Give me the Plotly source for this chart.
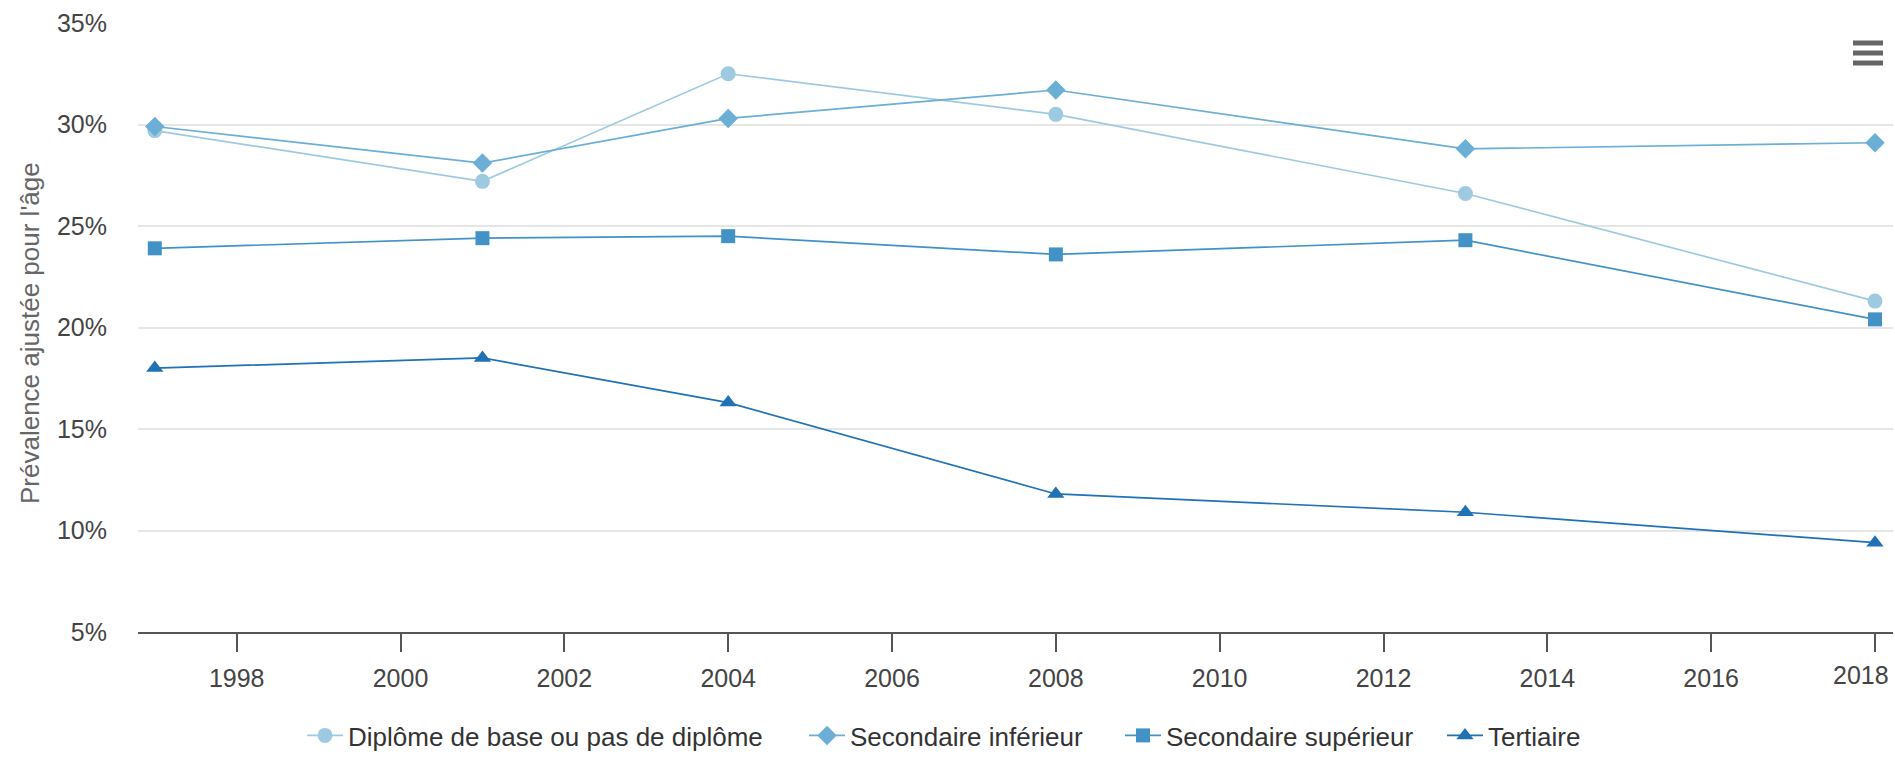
import plotly.graph_objects as go

years = [1997, 2001, 2004, 2008, 2013, 2018]
series_names = [
    "Diplôme de base ou pas de diplôme",
    "Secondaire inférieur",
    "Secondaire supérieur",
    "Tertiaire",
]
diplome_base = [29.7, 27.2, 32.5, 30.5, 26.6, 21.3]
secondaire_inf = [29.9, 28.1, 30.3, 31.7, 28.8, 29.1]
secondaire_sup = [23.9, 24.4, 24.5, 23.6, 24.3, 20.4]
tertiaire = [18.0, 18.5, 16.3, 11.8, 10.9, 9.4]

y_ticks = [5, 10, 15, 20, 25, 30, 35]
x_ticks = [1998, 2000, 2002, 2004, 2006, 2008, 2010, 2012, 2014, 2016, 2018]

colors = ["#9ecae1", "#6baed6", "#4292c6", "#2171b5"]
symbols = ["circle", "diamond", "square", "triangle-up"]
sizes = [15, 15, 14, 15]
values = [diplome_base, secondaire_inf, secondaire_sup, tertiaire]
legend_ids = ["legend", "legend2", "legend3", "legend4"]
legend_px = [307, 809, 1125, 1447]

FONT = "Liberation Sans, Arial, sans-serif"

W, H = 1895, 759
L, R, T, B = 138, 2, 23, 127
pw = W - L - R
ph = H - T - B


def px_x(px):
    return (px - L) / pw


def px_y(py):
    return (H - B - py) / ph


fig = go.Figure()
for name, vals, c, s, sz, lg in zip(series_names, values, colors, symbols, sizes, legend_ids):
    fig.add_trace(go.Scatter(
        x=years, y=vals, name=name, mode="lines+markers",
        line=dict(color=c, width=1.7),
        marker=dict(color=c, symbol=s, size=sz, line=dict(width=0)),
        legend=lg,
    ))

legend_layout = {}
for lg, px in zip(legend_ids, legend_px):
    legend_layout[lg] = dict(
        orientation="h", xref="container", yref="container",
        x=(px - 5) / W, xanchor="left", y=0, yanchor="bottom",
        font=dict(size=26, color="#333333", family=FONT),
        bgcolor="rgba(0,0,0,0)", borderwidth=0,
        itemwidth=36,
    )

fig.update_layout(
    width=W, height=H,
    margin=dict(l=L, r=R, t=T, b=B, pad=0),
    paper_bgcolor="white", plot_bgcolor="white",
    font=dict(family=FONT, size=23, color="#333333"),
    showlegend=True,
    xaxis=dict(
        range=[1996.795, 2018.22],
        tickvals=x_ticks,
        ticktext=[str(v) if v != 2018 else "" for v in x_ticks],
        showgrid=False, zeroline=False,
        showline=True, linecolor="#555555", linewidth=2,
        ticks="outside", ticklen=18, tickwidth=2, tickcolor="#555555",
        tickfont=dict(size=25, color="#444444"),
        ticklabelstandoff=5,
    ),
    yaxis=dict(
        range=[5, 35],
        tickvals=y_ticks, ticktext=[f"{v}%" for v in y_ticks],
        showgrid=True, gridcolor="#e6e6e6", gridwidth=1.5,
        zeroline=False, showline=False, ticks="",
        tickfont=dict(size=25, color="#444444"),
        ticklabelstandoff=30,
    ),
    annotations=[
        dict(
            text="Prévalence ajustée pour l'âge",
            xref="paper", yref="paper",
            x=px_x(30), y=px_y(333),
            xanchor="center", yanchor="middle",
            textangle=-90, showarrow=False,
            font=dict(size=26, color="#666666", family=FONT),
        ),
        # last x label, shifted left to stay inside the chart (as the original does)
        dict(
            text=str(x_ticks[-1]),
            xref="paper", yref="paper",
            x=px_x(1891), y=px_y(675),
            xanchor="right", yanchor="middle", showarrow=False,
            font=dict(size=25, color="#444444", family=FONT),
        ),
    ],
    **legend_layout,
)

# hamburger menu icon (decoration)
for yy in [43, 53, 63]:
    fig.add_shape(
        type="line", xref="paper", yref="paper",
        x0=px_x(1853), x1=px_x(1883),
        y0=px_y(yy), y1=px_y(yy),
        line=dict(color="#666666", width=5),
    )

fig.write_html(
    "out.html",
    config={"displayModeBar": False},
    post_script="document.body.style.margin='0';document.body.style.overflow='hidden';",
)
